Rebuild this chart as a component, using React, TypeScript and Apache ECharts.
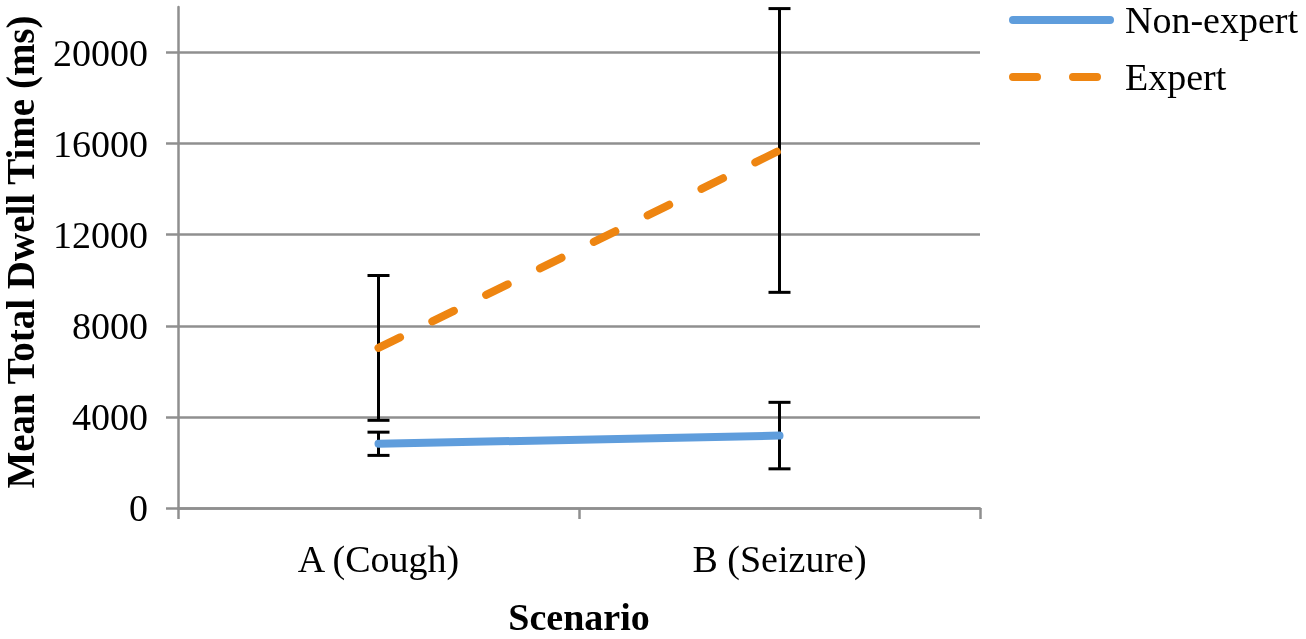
import React, { useEffect, useRef } from "react";
import * as echarts from "echarts";

const categories = ["A (Cough)", "B (Seizure)"];
const nonExpertMean = [2820, 3180];
const nonExpertErr = [510, 1460];
const expertMean = [7030, 15700];
const expertErr = [3180, 6230];
const yTicks = [0, 4000, 8000, 12000, 16000, 20000];
const yMin = 0;
const yMax = 22000;
const yInterval = 4000;
const seriesNames = ["Non-expert", "Expert"];
const xTitle = "Scenario";
const yTitle = "Mean Total Dwell Time (ms)";

export default function App() {
  const ref = useRef<HTMLDivElement>(null);
  useEffect(() => {
    const chart = echarts.init(ref.current!, null, { renderer: "svg" });
    const font = "'Liberation Serif', 'Times New Roman', serif";
    const gray = "#8f8f8f";
    const blue = "#5f9ddc";
    const orange = "#ee8511";
    const errData = [
      ...categories.map((_, i) => [i, nonExpertMean[i] - nonExpertErr[i], nonExpertMean[i] + nonExpertErr[i]]),
      ...categories.map((_, i) => [i, expertMean[i] - expertErr[i], expertMean[i] + expertErr[i]]),
    ];
    chart.setOption({
      animation: false,
      grid: { left: 178, right: 326, top: 7, bottom: 131, containLabel: false },
      legend: {
        orient: "vertical",
        left: 1009,
        top: 1,
        itemWidth: 97,
        itemHeight: 14,
        itemGap: 19,
        padding: 0,
        data: seriesNames,
        itemStyle: { opacity: 0 },
        lineStyle: { width: 8, cap: "round" },
        textStyle: { fontSize: 38, fontFamily: font, color: "#000", lineHeight: 38, padding: [0, 0, 0, 10] },
      },
      xAxis: {
        type: "category",
        data: categories,
        boundaryGap: true,
        axisLine: { show: true, lineStyle: { color: gray, width: 2.5 } },
        axisTick: { show: true, length: 11, lineStyle: { color: gray, width: 2.5 } },
        axisLabel: { fontSize: 38, fontFamily: font, color: "#000", margin: 32 },
        splitLine: { show: false },
      },
      yAxis: {
        type: "value",
        min: yMin,
        max: yMax,
        interval: yInterval,
        axisLine: { show: true, lineStyle: { color: gray, width: 2.5 } },
        axisTick: { show: true, length: 12, customValues: yTicks, lineStyle: { color: gray, width: 2.5 } },
        axisLabel: {
          customValues: yTicks,
          formatter: (v: number) => String(v),
          fontSize: 38,
          fontFamily: font,
          color: "#000",
          margin: 30,
          padding: [6, 0, 0, 0],
        },
        splitLine: { show: true, lineStyle: { color: gray, width: 2.5 } },
      },
      graphic: [
        {
          type: "text",
          x: 20,
          y: 252,
          rotation: Math.PI / 2,
          style: {
            text: yTitle,
            fontSize: 39,
            fontWeight: "bold",
            fontFamily: font,
            fill: "#000",
            textAlign: "center",
            textVerticalAlign: "middle",
          },
        },
        {
          type: "text",
          x: 579,
          y: 617,
          style: {
            text: xTitle,
            fontSize: 38,
            fontWeight: "bold",
            fontFamily: font,
            fill: "#000",
            textAlign: "center",
            textVerticalAlign: "middle",
          },
        },
      ],
      series: [
        {
          type: "custom",
          z: 2,
          silent: true,
          data: errData,
          encode: { x: 0, y: [1, 2] },
          renderItem: (params: any, api: any) => {
            const x = api.value(0);
            const pLo = api.coord([x, api.value(1)]);
            const pHi = api.coord([x, api.value(2)]);
            const w = 11;
            const style = { stroke: "#000", lineWidth: 3 };
            return {
              type: "group",
              children: [
                { type: "line", shape: { x1: pLo[0], y1: pLo[1], x2: pHi[0], y2: pHi[1] }, style },
                { type: "line", shape: { x1: pLo[0] - w, y1: pLo[1], x2: pLo[0] + w, y2: pLo[1] }, style },
                { type: "line", shape: { x1: pHi[0] - w, y1: pHi[1], x2: pHi[0] + w, y2: pHi[1] }, style },
              ],
            };
          },
        },
        {
          name: seriesNames[0],
          type: "line",
          z: 3,
          data: nonExpertMean,
          symbol: "none",
          itemStyle: { color: blue },
          lineStyle: { color: blue, width: 8, cap: "round" },
        },
        {
          name: seriesNames[1],
          type: "line",
          z: 3,
          data: expertMean,
          symbol: "none",
          itemStyle: { color: orange },
          lineStyle: { color: orange, width: 8, cap: "round", type: [24, 36] },
        },
      ],
    });
    return () => chart.dispose();
  }, []);
  return <div ref={ref} style={{ position: "fixed", left: 0, top: 0, width: 1306, height: 639 }} />;
}
